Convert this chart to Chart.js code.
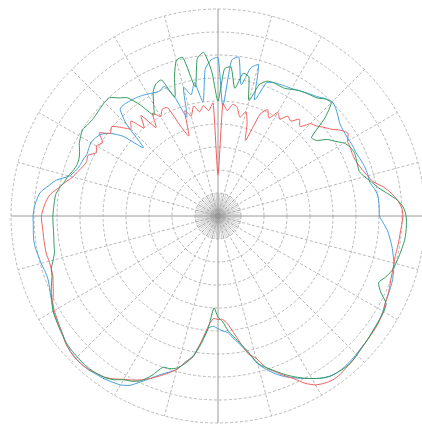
<!DOCTYPE html>
<html>
<head>
<meta charset="utf-8">
<script src="https://cdn.jsdelivr.net/npm/chart.js@4.4.1/dist/chart.umd.min.js"></script>
<style>
  html, body { margin: 0; padding: 0; background: #fff; overflow: hidden; }
  #wrap { width: 425px; height: 433px; position: relative; }
</style>
</head>
<body>
<div id="wrap"><canvas id="polarChart"></canvas></div>
<script>
// angle categories, 2.5 degree steps, 0 at top, clockwise
const angleLabels = Array.from({ length: 144 }, (_, i) => String(i * 2.5));

// ring ticks (dB)
const ringMin = -45;
const ringMax = 0;
const ringStep = 5;

// pattern readings (dB), one value per angle label
const redTrace = [
  -36, -20.5, -22, -20.5, -21, -23, -21.5, -24, -27.5, -21, -19.5, -21,
  -19, -20, -18.5, -19, -17.5, -18.6, -16.6, -16, -15, -14, -12.5, -11.5,
  -12.5, -12.6, -12.8, -12.8, -12.5, -12, -11.3, -10.5, -8.5, -7, -5.8, -5,
  -4.8, -5, -5.2, -5.3, -5.4, -5.5, -5.4, -5.2, -5, -4.6, -4.3, -4,
  -3.5, -3.2, -3, -2.9, -2.8, -2.6, -2.3, -2, -1.8, -1.5, -1.5, -1.9,
  -2.6, -4, -6, -7.5, -9, -10.5, -13, -14.2, -17, -19.5, -21.5, -22.5,
  -22.5, -22.7, -21, -17.5, -14, -12.5, -10.5, -9.2, -8, -6.8, -5.7, -4.8,
  -4, -3, -2.2, -1.8, -1.4, -1.2, -1.2, -1.4, -1.8, -2.5, -3, -3.5,
  -3.9, -4.5, -5.5, -6.2, -6.8, -7, -7, -6.8, -6.8, -6.8, -6.8, -6.7,
  -6.6, -7, -7.5, -8.3, -9.8, -11, -12.3, -13, -13.7, -14.1, -13.8, -15.2,
  -14.5, -15.3, -13.5, -15.5, -14.8, -16.5, -18.2, -17, -20, -17.5, -21.5, -18.5,
  -20, -18.8, -19, -24, -26.5, -21, -22.5, -20.5, -22, -20.8, -22, -20.4
];

const greenTrace = [
  -20, -13, -12.5, -17, -13.5, -14, -19, -15, -13.8, -13.6, -13.7, -13.7,
  -13.2, -12.6, -12.2, -11.9, -11.5, -10.5, -10.2, -13.5, -18.5, -18, -16, -14.8,
  -13.3, -12.6, -12.3, -12.5, -12.7, -12.8, -12, -10.8, -9.6, -7.8, -5.8, -4.6,
  -4.1, -4, -4, -4.1, -4.4, -4.7, -5, -5.4, -6.2, -7.2, -6, -3.8,
  -3.4, -3.3, -3.2, -3, -2.8, -2.6, -2.3, -2, -2, -2.2, -2.5, -3.2,
  -4.2, -5.3, -6.5, -7.8, -9.2, -10.5, -11.9, -14.8, -16.8, -18.5, -20, -22,
  -23, -25, -20.5, -17, -14, -12.2, -10.8, -10.2, -10, -7.5, -5.5, -4.5,
  -3.9, -2.8, -2.1, -1.8, -1.6, -1.6, -1.7, -1.8, -2, -2.4, -2.8, -3.2,
  -3.6, -4.3, -5, -5.8, -6.6, -7, -7.9, -8.6, -8.8, -9, -9.1, -9.1,
  -9.1, -9.2, -9.3, -9.4, -10, -10.8, -11.3, -12, -12.4, -12.3, -11.8, -11,
  -10.5, -10.1, -10.4, -10.6, -10.5, -10.3, -10.1, -10.1, -11.5, -12.6, -15.5, -19,
  -17, -14.5, -13.2, -13, -17.5, -13.5, -10, -9.7, -16.5, -10.5, -9.3, -13.5
];

const blueTrace = [
  -10.6, -21, -11, -10.2, -16, -12, -11, -18.5, -14.2, -13.6, -13.4, -13.2,
  -13, -12.6, -12.2, -11.7, -11.2, -10.4, -9.9, -10.3, -11, -11.7, -12, -12.1,
  -12.1, -12, -12, -11.8, -11.5, -11.3, -11.2, -11.2, -10.5, -10, -9.9, -9.9,
  -9.9, -9, -8, -7.3, -6.6, -6, -5.4, -5, -4.6, -4.4, -4.2, -4,
  -3.6, -3.3, -3.1, -3, -2.8, -2.7, -2.5, -2.3, -2.2, -2.2, -2.5, -3.2,
  -4.2, -5.2, -6.2, -7.2, -8.5, -10, -11.8, -14.5, -16.5, -18, -19.5, -20,
  -20.5, -21, -20.5, -17.5, -14.2, -12.5, -10.5, -9.4, -8.3, -6.8, -5.2, -3.5,
  -2.6, -2.2, -1.8, -1.6, -1.3, -1.2, -1.3, -1.5, -1.9, -2.5, -3, -3.3,
  -3.7, -4.3, -4.8, -5.3, -5.6, -5.5, -5.2, -5, -4.7, -4.6, -4.7, -4.8,
  -4.8, -5, -5.4, -6, -7.5, -9, -11.5, -12.5, -13, -13.2, -13.5, -13.3,
  -13.1, -13.4, -14, -15.5, -18, -23, -17, -13.5, -13.3, -13.5, -13.7, -14,
  -14.4, -14.8, -15, -14.5, -17.5, -22.5, -16, -18, -15.5, -20, -13, -11
];

// short dense spokes near the centre
const innerSpokes = {
    id: 'innerSpokes',
    beforeDatasetsDraw(chart) {
        const s = chart.scales.r;
        const ctx = chart.ctx;
        ctx.save();
        ctx.strokeStyle = 'rgba(150,150,150,0.6)';
        ctx.lineWidth = 0.8;
        for (let i = 0; i < angleLabels.length; i += 2) {
            const a = s.getPointPositionForValue(i, ringMin);
            const b = s.getPointPositionForValue(i, ringMin + ringStep);
            ctx.beginPath();
            ctx.moveTo(a.x, a.y);
            ctx.lineTo(b.x, b.y);
            ctx.stroke();
        }
        ctx.restore();
    }
};

const ctxP = document.getElementById('polarChart').getContext('2d');
const patternChart = new Chart(ctxP, {
    type: 'radar',
    data: {
        labels: angleLabels,
        datasets: [
            { label: 'green', data: greenTrace, borderColor: '#2f9a5c' },
            { label: 'red', data: redTrace, borderColor: '#ef5f5f' },
            { label: 'blue', data: blueTrace, borderColor: '#429fe2' }
        ]
    },
    options: {
        responsive: true,
        maintainAspectRatio: false,
        animation: false,
        layout: { padding: { left: 11, right: 0, top: 2, bottom: 3 } },
        elements: {
            line: { borderWidth: 1, tension: 0.2, fill: false },
            point: { radius: 0, hoverRadius: 0 }
        },
        plugins: { legend: { display: false }, tooltip: { enabled: false } },
        scales: {
            r: {
                min: ringMin,
                max: ringMax,
                ticks: { stepSize: ringStep, display: false },
                pointLabels: { display: false },
                grid: { circular: true, color: '#b8b8b8', lineWidth: 1 },
                border: { dash: [3, 2] },
                angleLines: {
                    color: (c) => {
                        if (c.index % 36 === 0) return '#9a9a9a';
                        if (c.index % 6 === 0) return '#b8b8b8';
                        return 'rgba(0,0,0,0)';
                    },
                    lineWidth: (c) => (c.index % 6 === 0 ? 1 : 0),
                    borderDash: (c) => (c.index % 36 === 0 ? [] : [3, 2])
                }
            }
        }
    },
    plugins: [innerSpokes]
});
</script>
</body>
</html>
